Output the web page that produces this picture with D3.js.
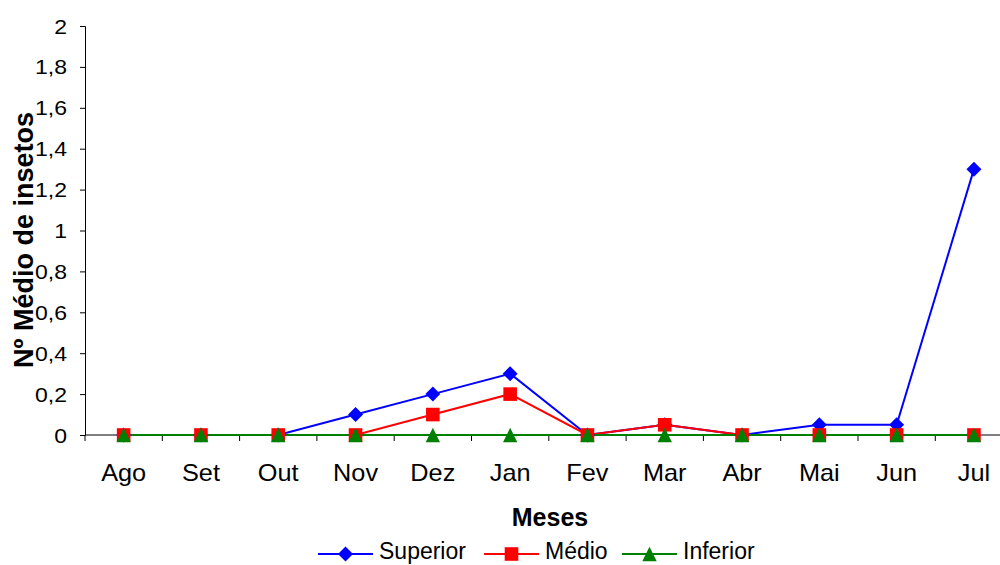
<!DOCTYPE html>
<html><head><meta charset="utf-8">
<script src="https://cdn.jsdelivr.net/npm/d3@7"></script>
<style>body{margin:0;background:#fff}svg{display:block;font-family:"Liberation Sans",Arial,sans-serif}</style>
</head><body><svg id="c" width="1000" height="565"></svg>
<script>
const months = ["Ago","Set","Out","Nov","Dez","Jan","Fev","Mar","Abr","Mai","Jun","Jul"];
const superior = [0,0,0,0.1,0.2,0.3,0,0.05,0,0.05,0.05,1.3];
const medio = [0,0,0,0,0.1,0.2,0,0.05,0,0,0,0];
const inferior = [0,0,0,0,0,0,0,0,0,0,0,0];
const yTicks = [0,0.2,0.4,0.6,0.8,1,1.2,1.4,1.6,1.8,2];
const seriesNames = ["Superior","Médio","Inferior"];

const svg = d3.select("#c");
const x = d3.scaleBand().domain(months).range([85, 85 + 77.3*12]);
const y = d3.scaleLinear().domain([0,2]).range([435, 26]);
const fmt = d => String(d).replace(".", ",");
const FF = "Liberation Sans, Arial, sans-serif";

// y axis
const ya = svg.append("g").attr("transform","translate(85,0)")
  .call(d3.axisLeft(y).tickValues(yTicks).tickFormat(fmt).tickSizeOuter(0).tickSize(5).tickPadding(13));
ya.selectAll("text").attr("font-size",19.5).attr("fill","#000").attr("font-family",FF)
  .attr("dy","0.36em")
  .attr("transform", function(){ const x0 = +d3.select(this).attr("x"); return `translate(${x0},0) scale(1.18,1) translate(${-x0},0)`; });
ya.selectAll("line,path").attr("stroke","#000");

// x axis line
svg.append("line").attr("x1",85).attr("x2",1000).attr("y1",y(0)).attr("y2",y(0)).attr("stroke","#000");
// x ticks at boundaries
const bounds = months.map(m => x(m));
svg.selectAll(".xt").data(bounds).enter().append("line")
  .attr("x1",d=>d).attr("x2",d=>d).attr("y1",y(0)).attr("y2",y(0)+6).attr("stroke","#000");
svg.selectAll(".xl").data(months).enter().append("text")
  .attr("x",d=>x(d)+x.bandwidth()/2).attr("y",481)
  .attr("text-anchor","middle").attr("font-size",23)
  .attr("transform", d => { const x0 = x(d)+x.bandwidth()/2; return `translate(${x0},0) scale(1.1,1) translate(${-x0},0)`; })
  .text(d=>d);

// titles
svg.append("text").attr("x",550).attr("y",526).attr("text-anchor","middle")
  .attr("font-size",25).attr("font-weight","bold").text("Meses");
svg.append("text").attr("transform","translate(33,240) rotate(-90)").attr("text-anchor","middle")
  .attr("font-size",27).attr("font-weight","bold").text("Nº Médio de insetos");

const cx = (m) => x(m) + x.bandwidth()/2;
const line = d3.line().x((d,i)=>cx(months[i])).y(d=>y(d));
const triangle = { draw(ctx, size){ const h = Math.sqrt(size); ctx.moveTo(0,-h/2); ctx.lineTo(h/2,h/2); ctx.lineTo(-h/2,h/2); ctx.closePath(); } };
const cfg = [
  {data:superior, color:"#0000ff", sym:d3.symbolSquare, size:112, rot:45},
  {data:medio, color:"#ff0000", sym:d3.symbolSquare, size:185, rot:0},
  {data:inferior, color:"#008000", sym:triangle, size:205, rot:0}
];
cfg.forEach(c=>{
  svg.append("path").datum(c.data).attr("d",line).attr("fill","none").attr("stroke",c.color).attr("stroke-width",2);
});
cfg.forEach(c=>{
  svg.selectAll(null).data(c.data).enter().append("path")
    .attr("transform",(d,i)=>`translate(${cx(months[i])},${y(d)}) rotate(${c.rot})`)
    .attr("d",d3.symbol().type(c.sym).size(c.size)).attr("fill",c.color);
});

// legend
const legX = [318, 484, 622];
seriesNames.forEach((n,i)=>{
  const g = svg.append("g").attr("transform",`translate(${legX[i]},554)`);
  g.append("line").attr("x1",0).attr("x2",55).attr("stroke",cfg[i].color).attr("stroke-width",2);
  g.append("path").attr("transform",`translate(27.5,0) rotate(${cfg[i].rot})`).attr("d",d3.symbol().type(cfg[i].sym).size(cfg[i].size)).attr("fill",cfg[i].color);
  g.append("text").attr("x",61).attr("y",5).attr("font-size",23).text(n);
});
</script></body></html>
